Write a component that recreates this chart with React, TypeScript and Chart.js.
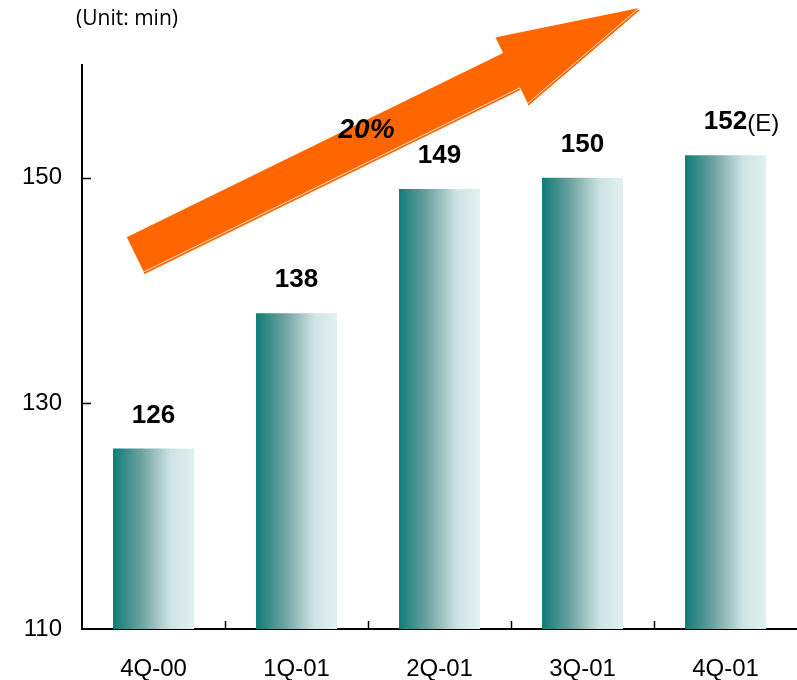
import React, { useEffect, useRef } from "react";
import { Chart, registerables } from "chart.js";

Chart.register(...registerables);

// ---- data ----
const categories = ["4Q-00", "1Q-01", "2Q-01", "3Q-01", "4Q-01"];
const values = [126, 138, 149, 150, 152];
const valueSuffixes = ["", "", "", "", "(E)"];
const yTickValues = [110, 130, 150];
const yMin = 110;
const yMax = 160;
const unitLabel = "(Unit: min)";
const growthLabel = "20%";
// decoration anchors in data space: [category index, value]
const arrowTail = [-0.13, 143.2];
const arrowTip = [3.4, 165.1];
const growthLabelPos = [1.49, 154.2];

const FONT = "'Liberation Sans', Arial, Helvetica, sans-serif";
const BAR_PCT = 0.566;

const decorations = {
  id: "decorations",
  afterDatasetsDraw(chart: any) {
    const { ctx, chartArea, scales } = chart;
    const xs = scales.x;
    const ys = scales.y;
    ctx.save();

    // inward tick marks
    ctx.strokeStyle = "#000";
    ctx.lineWidth = 1.5;
    yTickValues.forEach((v) => {
      if (v === yMin) return;
      const py = Math.round(ys.getPixelForValue(v)) + 0.5;
      ctx.beginPath();
      ctx.moveTo(chartArea.left, py);
      ctx.lineTo(chartArea.left + 9, py);
      ctx.stroke();
    });
    for (let i = 0; i < categories.length - 1; i++) {
      const px = Math.round(xs.getPixelForValue(i + 0.5)) + 0.5;
      ctx.beginPath();
      ctx.moveTo(px, chartArea.bottom);
      ctx.lineTo(px, chartArea.bottom - 8);
      ctx.stroke();
    }

    // arrow
    const tx = xs.getPixelForValue(arrowTail[0]);
    const ty = ys.getPixelForValue(arrowTail[1]);
    const hx = xs.getPixelForValue(arrowTip[0]);
    const hy = ys.getPixelForValue(arrowTip[1]);
    const len = Math.hypot(hx - tx, hy - ty);
    const ux = (hx - tx) / len;
    const uy = (hy - ty) / len;
    const nx = -uy;
    const ny = ux;
    const shaftW = 19.5;
    const headW = 37;
    const headL = 143;
    const bx = hx - ux * headL;
    const by = hy - uy * headL;
    const pts = [
      [tx + nx * shaftW, ty + ny * shaftW],
      [bx + nx * shaftW, by + ny * shaftW],
      [bx + nx * headW, by + ny * headW],
      [hx, hy],
      [bx - nx * headW, by - ny * headW],
      [bx - nx * shaftW, by - ny * shaftW],
      [tx - nx * shaftW, ty - ny * shaftW],
    ];
    const path = (dx: number, dy: number) => {
      ctx.beginPath();
      pts.forEach((p, i) => (i ? ctx.lineTo(p[0] + dx, p[1] + dy) : ctx.moveTo(p[0] + dx, p[1] + dy)));
      ctx.closePath();
    };
    ctx.fillStyle = "#FF6600";
    path(1, 2);
    ctx.fill();
    path(0, 0);
    ctx.fill();
    ctx.strokeStyle = "#ffffff";
    ctx.lineWidth = 0.8;
    ctx.stroke();

    // value labels
    const meta = chart.getDatasetMeta(0);
    ctx.fillStyle = "#000";
    ctx.textBaseline = "middle";
    meta.data.forEach((el: any, i: number) => {
      const txt = String(values[i]);
      ctx.font = `bold 26px ${FONT}`;
      ctx.textAlign = "center";
      const y = el.y - 33;
      ctx.fillText(txt, el.x, y);
      if (valueSuffixes[i]) {
        const w = ctx.measureText(txt).width;
        ctx.font = `24px ${FONT}`;
        ctx.textAlign = "left";
        ctx.fillText(valueSuffixes[i], el.x + w / 2, y + 2);
      }
    });

    // growth label
    ctx.font = `italic bold 28px ${FONT}`;
    ctx.textAlign = "center";
    ctx.textBaseline = "middle";
    ctx.fillText(growthLabel, xs.getPixelForValue(growthLabelPos[0]), ys.getPixelForValue(growthLabelPos[1]));

    // unit label
    ctx.font = `21px 'Open Sans', 'Noto Sans', sans-serif`;
    ctx.textAlign = "left";
    ctx.fillText(unitLabel, 76, 19);

    ctx.restore();
  },
};

export default function App() {
  const ref = useRef<HTMLCanvasElement | null>(null);

  useEffect(() => {
    if (!ref.current) return;
    const chart = new Chart(ref.current, {
      type: "bar",
      data: {
        labels: categories,
        datasets: [
          {
            data: values,
            borderWidth: 0,
            categoryPercentage: 1,
            barPercentage: BAR_PCT,
            backgroundColor: (c: any) => {
              const chart = c.chart;
              const xs = chart.scales?.x;
              if (!chart.chartArea || !xs || c.dataIndex === undefined) return "#127f7b";
              const x = xs.getPixelForValue(c.dataIndex);
              const w = (xs.width / categories.length) * BAR_PCT;
              const g = chart.ctx.createLinearGradient(x - w / 2, 0, x + w / 2, 0);
              g.addColorStop(0, "#0e7c77");
              g.addColorStop(0.35, "#6ea2a0");
              g.addColorStop(0.72, "#cfe4e4");
              g.addColorStop(1, "#e0f1f1");
              return g;
            },
          },
        ],
      },
      options: {
        responsive: false,
        animation: false,
        devicePixelRatio: 1,
        layout: { padding: { top: 65, left: 0, right: 0, bottom: 0 } },
        plugins: { legend: { display: false }, tooltip: { enabled: false } },
        scales: {
          x: {
            grid: { display: false, drawTicks: false },
            border: { display: true, color: "#000", width: 2 },
            ticks: { color: "#000", font: { size: 24, family: FONT }, padding: 26, maxRotation: 0 },
            afterFit: (s: any) => {
              s.height = 51;
            },
          },
          y: {
            min: yMin,
            max: yMax,
            afterBuildTicks: (s: any) => {
              s.ticks = yTickValues.map((v) => ({ value: v }));
            },
            grid: { display: false, drawTicks: false },
            border: { display: true, color: "#000", width: 2 },
            ticks: { color: "#000", font: { size: 24, family: FONT }, padding: 20 },
            afterFit: (s: any) => {
              s.width = 82;
            },
          },
        },
      },
      plugins: [decorations],
    });
    return () => chart.destroy();
  }, []);

  return (
    <div style={{ position: "absolute", left: 0, top: 0, width: 797, height: 680, background: "#fff" }}>
      <canvas ref={ref} width={797} height={680} style={{ display: "block" }} />
    </div>
  );
}
